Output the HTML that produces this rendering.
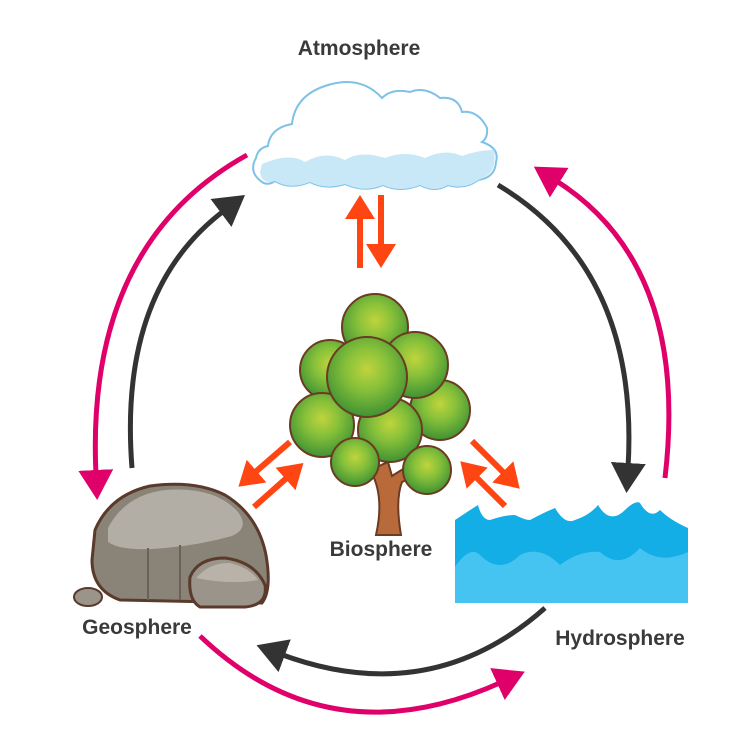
<!DOCTYPE html>
<html><head><meta charset="utf-8"><style>
html,body{margin:0;padding:0;background:#fff}
svg{display:block}
text{font-family:"Liberation Sans",Arial,sans-serif;font-weight:bold;fill:#3a3a3a}
</style></head><body>
<svg width="750" height="754" viewBox="0 0 750 754" xmlns="http://www.w3.org/2000/svg">
<defs>
<marker id="mk" markerWidth="7" markerHeight="7" refX="1" refY="3.5" orient="auto" markerUnits="strokeWidth"><path d="M0,0 L6,3.5 L0,7 Z" fill="#333"/></marker>
<marker id="mp" markerWidth="7" markerHeight="7" refX="1" refY="3.5" orient="auto" markerUnits="strokeWidth"><path d="M0,0 L6,3.5 L0,7 Z" fill="#e0006a"/></marker>
<marker id="mr" markerWidth="5" markerHeight="5" refX="1" refY="2.5" orient="auto" markerUnits="strokeWidth"><path d="M0,0 L4,2.5 L0,5 Z" fill="#ff4512"/></marker>
<radialGradient id="leaf" cx="0.5" cy="0.4" r="0.6"><stop offset="0" stop-color="#c0d43c"/><stop offset="0.45" stop-color="#86c03a"/><stop offset="1" stop-color="#3f9234"/></radialGradient>
</defs>

<text x="359" y="55" font-size="21" text-anchor="middle">Atmosphere</text>
<text x="381" y="556" font-size="21" text-anchor="middle">Biosphere</text>
<text x="137" y="634" font-size="21" text-anchor="middle">Geosphere</text>
<text x="620" y="645" font-size="21" text-anchor="middle">Hydrosphere</text>

<g fill="none" stroke-width="5">
<path d="M247,155 Q85,245 96,475" stroke="#e0006a" marker-end="url(#mp)"/>
<path d="M132,468 Q118,290 225,210" stroke="#333" marker-end="url(#mk)"/>
<path d="M498,185 Q640,270 628,468" stroke="#333" marker-end="url(#mk)"/>
<path d="M665,478 Q690,265 555,180" stroke="#e0006a" marker-end="url(#mp)"/>
<path d="M545,608 Q430,710 280,654" stroke="#333" marker-end="url(#mk)"/>
<path d="M200,636 Q330,760 502,682" stroke="#e0006a" marker-end="url(#mp)"/>
</g>

<g stroke="#ff4512" stroke-width="6" fill="none">
<path d="M360,268 L360,213" marker-end="url(#mr)"/>
<path d="M381,195 L381,250" marker-end="url(#mr)"/>
<path d="M290,442 L252,475" marker-end="url(#mr)"/>
<path d="M254,507 L290,475" marker-end="url(#mr)"/>
<path d="M472,441 L507,476" marker-end="url(#mr)"/>
<path d="M505,506 L473,474" marker-end="url(#mr)"/>
</g>

<!-- cloud -->
<path d="M262,182 Q248,172 256,158 Q258,148 268,146 Q270,128 292,124 Q295,96 325,86 Q360,74 382,98 Q392,88 410,92 Q425,86 440,98 Q458,96 462,112 Q478,110 487,128 Q488,138 482,142 Q500,148 496,162 Q495,178 478,180 Q465,190 448,185 Q435,193 420,185 Q400,193 383,185 Q365,193 345,184 Q325,190 310,182 Q290,190 275,181 Q268,186 262,182 Z" fill="#fff" stroke="#7fc2e8" stroke-width="2"/>
<path d="M262,164 Q290,152 305,162 Q325,150 345,160 Q360,150 385,158 Q405,150 425,158 Q445,148 462,156 Q478,150 494,150 Q498,175 478,180 Q465,190 448,185 Q435,193 420,185 Q400,193 383,185 Q365,193 345,184 Q325,190 310,182 Q290,190 275,181 Q262,185 260,172 Z" fill="#c8e8f8"/>

<!-- tree trunk -->
<path d="M370,470 Q385,495 376,535 L401,535 Q395,500 402,482 Q412,478 422,470 L410,465 Q398,472 392,476 L388,462 Z" fill="#b86a3a" stroke="#6b3b22" stroke-width="2"/>
<g fill="url(#leaf)" stroke="#6b3b22" stroke-width="2">
<circle cx="375" cy="327" r="33"/>
<circle cx="330" cy="370" r="30"/>
<circle cx="440" cy="410" r="30"/>
<circle cx="415" cy="365" r="33"/>
<circle cx="322" cy="425" r="32"/>
<circle cx="390" cy="430" r="32"/>
<circle cx="367" cy="377" r="40"/>
<circle cx="355" cy="462" r="24"/>
<circle cx="427" cy="470" r="24"/>
</g>

<!-- water -->
<path d="M455,520 Q470,510 478,505 Q482,520 490,520 Q505,515 515,515 Q525,520 530,520 Q545,512 555,508 Q565,525 575,520 Q590,515 598,505 Q610,525 625,510 Q635,500 640,503 Q650,520 660,510 Q670,520 688,528 L688,603 L455,603 Z" fill="#14aee6"/>
<path d="M455,567 Q470,545 480,555 Q500,575 520,555 Q540,545 560,565 Q580,550 600,552 Q620,570 640,548 Q660,565 688,552 L688,603 L455,603 Z" fill="#45c4f2"/>

<!-- rocks -->
<path d="M95,530 Q110,495 150,486 Q195,480 225,495 Q258,515 266,555 Q272,590 262,603 L120,600 Q92,590 92,560 Z" fill="#8a8378" stroke="#5a3a2a" stroke-width="3"/>
<path d="M108,528 Q125,495 165,490 Q215,486 238,512 Q250,528 232,536 Q200,545 165,548 Q122,552 108,542 Z" fill="#b2ada5"/>
<path d="M148,548 L148,600 M180,545 L180,600" stroke="#6a6258" stroke-width="2"/>
<path d="M190,577 Q198,558 225,558 Q255,562 265,585 Q268,605 245,607 L200,607 Q188,600 190,577 Z" fill="#9a948a" stroke="#5a3a2a" stroke-width="3"/>
<path d="M196,578 Q210,562 230,563 Q250,568 258,580 Q230,585 196,578 Z" fill="#b8b2a8"/>
<ellipse cx="88" cy="597" rx="14" ry="9" fill="#9a948a" stroke="#5a3a2a" stroke-width="2"/>
</svg>
</body></html>
